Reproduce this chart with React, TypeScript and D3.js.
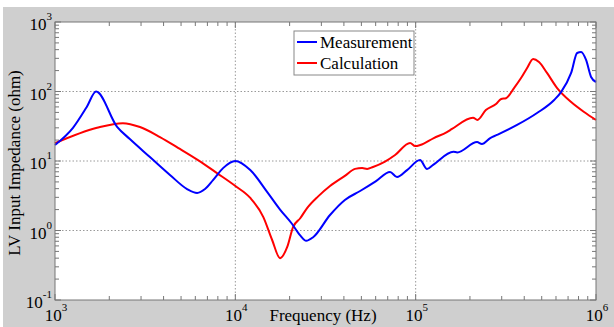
import { useEffect, useRef } from 'react';
import * as d3 from 'd3';

// Measurement (blue) — frequency in Hz, impedance in ohm
const measFreq = [
  1000, 1258, 1500, 1690, 2210, 2600, 3360, 4340, 5400, 6140, 6790, 7520, 8550, 10000,
  12100, 15000, 17700, 20600, 22900, 24700, 27000, 33500, 40500, 49200, 60000, 72100,
  78800, 89600, 105700, 115600, 125000, 162000, 170000, 219000, 233000, 259000, 282000,
  365000, 471000, 586000, 640000, 728000, 786000, 827000, 881000, 939000, 1000000,
];
const measZ = [
  17, 30, 60, 100, 31, 20.7, 11.4, 6.3, 3.95, 3.47, 3.95, 5.3, 7.9, 10,
  7.4, 3.6, 2.0, 1.25, 0.85, 0.71, 0.8, 1.67, 2.75, 3.7, 5.1, 6.95,
  5.89, 7.4, 10.3, 7.67, 8.8, 13.6, 13.3, 18.7, 17.6, 21.4, 23.7,
  33, 49, 75.5, 98, 185, 358, 370, 284, 162, 137,
];

// Calculation (red)
const calcFreq = [
  1000, 1710, 2380, 2960, 3820, 4930, 6210, 7910, 10000, 12100, 14300, 16000, 17700,
  19400, 20900, 22900, 25000, 28800, 33500, 40500, 46100, 50500, 53800, 58000, 67600,
  76900, 93100, 99300, 106000, 126000, 149000, 159000, 208000, 220000, 245000, 279000,
  298000, 317000, 351000, 384000, 415000, 448000, 483000, 535000, 609000, 728000, 859000,
  1000000,
];
const calcZ = [
  18, 30, 35, 30.8, 22.1, 14.9, 10.3, 6.7, 4.37, 2.94, 1.56, 0.73, 0.4,
  0.58, 1.12, 1.5, 2.1, 3.1, 4.37, 6.1, 7.7, 7.9, 7.7, 8.2, 9.8,
  12.2, 18.2, 16.4, 17, 21.4, 26, 28.9, 42, 39, 54, 66,
  78, 80, 112, 156, 218, 294, 266, 185, 112, 70.6, 50.7,
  38.9,
];

const xDecades = [3, 4, 5, 6];
const yDecades = [-1, 0, 1, 2, 3];
const legendLabels = ['Measurement', 'Calculation'];
const seriesColors = ['#0000ff', '#ff0000'];

const W = 614;
const H = 327;
const FONT = '"Liberation Serif", "Times New Roman", serif';

export default function App() {
  const svgRef = useRef<SVGSVGElement>(null);

  useEffect(() => {
    if (!svgRef.current) return;
    const svg = d3.select(svgRef.current);
    svg.selectAll('*').remove();

    const margin = { top: 22, right: 18, bottom: 27, left: 55 };
    const innerWidth = W - margin.left - margin.right;
    const innerHeight = H - margin.top - margin.bottom;

    // Background: white page, gray figure
    svg.append('rect').attr('width', W).attr('height', H).attr('fill', '#ffffff');
    svg.append('rect').attr('x', 3).attr('y', 7).attr('width', W - 3).attr('height', H - 7).attr('fill', '#cfcfcf');

    const x = d3.scaleLog().domain([1e3, 1e6]).range([0, innerWidth]);
    const y = d3.scaleLog().domain([1e-1, 1e3]).range([innerHeight, 0]);

    const g = svg.append('g').attr('transform', `translate(${margin.left},${margin.top})`);

    g.append('rect').attr('width', innerWidth).attr('height', innerHeight).attr('fill', '#ffffff');

    // Grid (decades only)
    const gridColor = '#9a9a9a';
    xDecades.slice(1, -1).forEach((d) => {
      g.append('line')
        .attr('x1', x(10 ** d)).attr('x2', x(10 ** d))
        .attr('y1', 0).attr('y2', innerHeight)
        .attr('stroke', gridColor).attr('stroke-dasharray', '1.5,2');
    });
    yDecades.slice(1, -1).forEach((d) => {
      g.append('line')
        .attr('x1', 0).attr('x2', innerWidth)
        .attr('y1', y(10 ** d)).attr('y2', y(10 ** d))
        .attr('stroke', gridColor).attr('stroke-dasharray', '1.5,2');
    });

    // Ticks on all four sides
    const tickColor = '#777';
    const xTicks: number[] = [];
    xDecades.slice(0, -1).forEach((d) => {
      for (let m = 1; m < 10; m++) xTicks.push(m * 10 ** d);
    });
    xTicks.push(1e6);
    const yTicks: number[] = [];
    yDecades.slice(0, -1).forEach((d) => {
      for (let m = 1; m < 10; m++) yTicks.push(m * 10 ** d);
    });
    yTicks.push(1e3);

    xTicks.forEach((t) => {
      const len = Math.abs(Math.log10(t) % 1) < 1e-9 ? 6 : 4;
      const px = x(t);
      g.append('line').attr('x1', px).attr('x2', px).attr('y1', innerHeight).attr('y2', innerHeight - len).attr('stroke', tickColor);
      g.append('line').attr('x1', px).attr('x2', px).attr('y1', 0).attr('y2', len).attr('stroke', tickColor);
    });
    yTicks.forEach((t) => {
      const len = Math.abs(Math.log10(t) % 1) < 1e-9 ? 6 : 4;
      const py = y(t);
      g.append('line').attr('x1', 0).attr('x2', len).attr('y1', py).attr('y2', py).attr('stroke', tickColor);
      g.append('line').attr('x1', innerWidth).attr('x2', innerWidth - len).attr('y1', py).attr('y2', py).attr('stroke', tickColor);
    });

    // Curves
    const line = d3
      .line<[number, number]>()
      .x((d) => x(d[0]))
      .y((d) => y(d[1]))
      .curve(d3.curveMonotoneX);

    const meas = measFreq.map((f, i) => [f, measZ[i]] as [number, number]);
    const calc = calcFreq.map((f, i) => [f, calcZ[i]] as [number, number]);

    g.append('path').datum(calc).attr('d', line).attr('fill', 'none')
      .attr('stroke', seriesColors[1]).attr('stroke-width', 2);
    g.append('path').datum(meas).attr('d', line).attr('fill', 'none')
      .attr('stroke', seriesColors[0]).attr('stroke-width', 2);

    // Box
    g.append('rect').attr('width', innerWidth).attr('height', innerHeight)
      .attr('fill', 'none').attr('stroke', tickColor);

    // X tick labels
    xDecades.forEach((d) => {
      const t = svg.append('text')
        .attr('x', margin.left + x(10 ** d) + 1)
        .attr('y', 321)
        .attr('text-anchor', 'middle')
        .attr('font-family', FONT)
        .attr('font-size', 17)
        .attr('fill', '#000');
      t.append('tspan').text('10');
      t.append('tspan').attr('dy', -10).attr('font-size', 11).text(String(d));
    });

    // Y tick labels
    yDecades.forEach((d) => {
      const py = margin.top + y(10 ** d);
      const t = svg.append('text')
        .attr('x', margin.left - 3)
        .attr('y', py + 8)
        .attr('text-anchor', 'end')
        .attr('font-family', FONT)
        .attr('font-size', 17)
        .attr('fill', '#000');
      t.append('tspan').text('10');
      t.append('tspan').attr('dy', -10).attr('font-size', 11).text(String(d));
    });

    // Axis titles
    svg.append('text')
      .attr('x', 323)
      .attr('y', 321)
      .attr('text-anchor', 'middle')
      .attr('font-family', FONT)
      .attr('font-size', 17)
      .attr('fill', '#000')
      .text('Frequency (Hz)');

    svg.append('text')
      .attr('transform', `translate(20,${margin.top + innerHeight / 2 + 2}) rotate(-90)`)
      .attr('text-anchor', 'middle')
      .attr('font-family', FONT)
      .attr('font-size', 17)
      .attr('fill', '#000')
      .text('LV Input Impedance (ohm)');

    // Legend
    const legend = svg.append('g').attr('transform', 'translate(294,31)');
    legend.append('rect').attr('width', 120).attr('height', 44)
      .attr('fill', '#ffffff').attr('stroke', '#888');
    legendLabels.forEach((label, i) => {
      const ly = 11 + i * 21;
      legend.append('line').attr('x1', 3).attr('x2', 23).attr('y1', ly).attr('y2', ly)
        .attr('stroke', seriesColors[i]).attr('stroke-width', 2);
      legend.append('text')
        .attr('x', 26)
        .attr('y', ly + 6)
        .attr('font-family', FONT)
        .attr('font-size', 17)
        .attr('fill', '#000')
        .text(label);
    });
  }, []);

  return (
    <svg
      ref={svgRef}
      width={W}
      height={H}
      style={{ position: 'absolute', left: 0, top: 0 }}
    />
  );
}
